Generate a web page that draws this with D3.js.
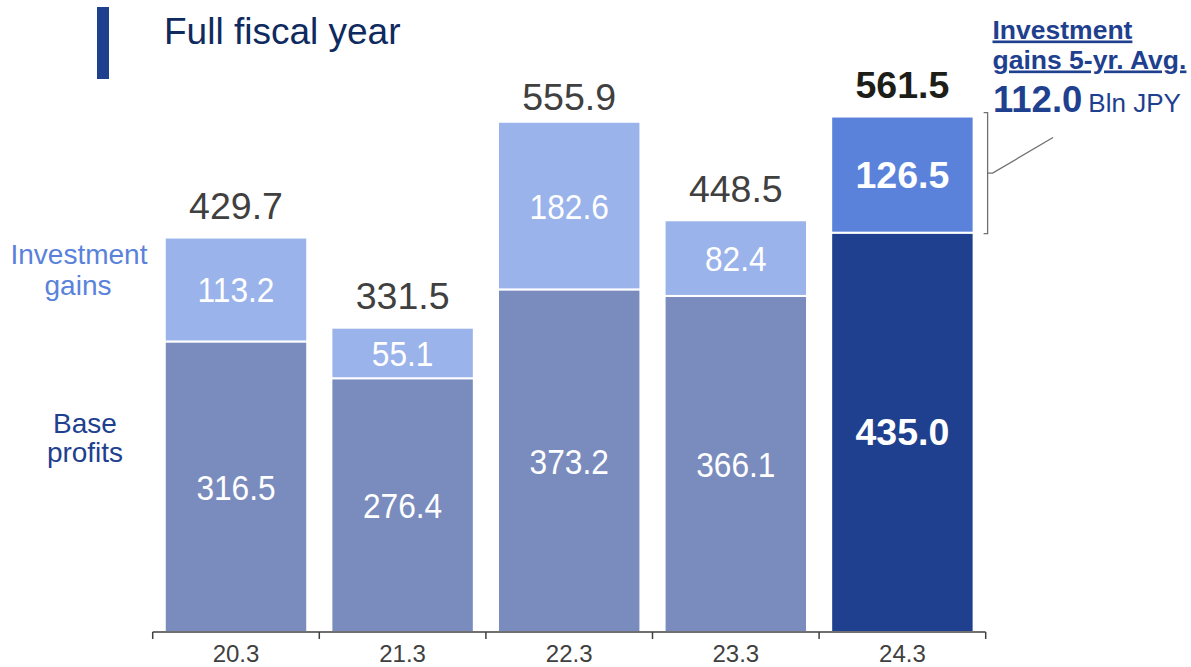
<!DOCTYPE html>
<html>
<head>
<meta charset="utf-8">
<script src="https://cdn.jsdelivr.net/npm/d3@7"></script>
<style>
  html, body { margin: 0; padding: 0; background: #fff; }
  svg { display: block; font-family: "Liberation Sans", Arial, Helvetica, sans-serif; }
</style>
</head>
<body>
<svg id="chart" width="1191" height="667"></svg>
<script>
// Fiscal years (ending March) and profit components, Bln JPY
const categories = ["20.3", "21.3", "22.3", "23.3", "24.3"];
const baseProfits = [316.5, 276.4, 373.2, 366.1, 435.0];
const investmentGains = [113.2, 55.1, 182.6, 82.4, 126.5];
const totals = [429.7, 331.5, 555.9, 448.5, 561.5];
const investmentAvg5yr = 112.0;
const highlightYear = "24.3";

const svg = d3.select("#chart");

const x = d3.scaleBand()
  .domain(categories)
  .range([152.7, 985.7])
  .paddingInner(0.145)
  .paddingOuter(0.0725);

const y = d3.scaleLinear().domain([0, 600]).range([632, 81.2]);

const colors = {
  base: "#7a8cbd",
  gains: "#9ab3ea",
  baseHi: "#1f3f8f",
  gainsHi: "#5a82db"
};

const rows = categories.map((c, i) => ({
  cat: c,
  base: baseProfits[i],
  gains: investmentGains[i],
  total: totals[i],
  hi: c === highlightYear
}));

const stack = d3.stack().keys(["base", "gains"])(rows);

// Stacked bars
const layers = svg.append("g").selectAll("g")
  .data(stack)
  .join("g");

layers.selectAll("rect")
  .data(L => L.map(d => ({ key: L.key, d0: d[0], d1: d[1], row: d.data })))
  .join("rect")
  .attr("x", d => x(d.row.cat))
  .attr("width", x.bandwidth())
  .attr("y", d => y(d.d1))
  .attr("height", d => y(d.d0) - y(d.d1))
  .attr("fill", d => d.row.hi ? colors[d.key + "Hi"] : colors[d.key])
  .attr("stroke", "#fff")
  .attr("stroke-width", 2);

// Segment value labels (regular ones set slightly condensed)
layers.selectAll("text")
  .data(L => L.map(d => ({ key: L.key, d0: d[0], d1: d[1], row: d.data })))
  .join("text")
  .attr("transform", d => {
    const cx = x(d.row.cat) + x.bandwidth() / 2;
    const cy = (y(d.d0) + y(d.d1)) / 2 + 13;
    return `translate(${cx},${cy}) scale(${d.row.hi ? 1 : 0.88},1)`;
  })
  .attr("text-anchor", "middle")
  .attr("fill", "#fff")
  .attr("font-size", d => d.row.hi ? 37.5 : 36)
  .attr("font-weight", d => d.row.hi ? "bold" : "normal")
  .text(d => d.row[d.key].toFixed(1));

// Totals above bars
svg.append("g").selectAll("text")
  .data(rows)
  .join("text")
  .attr("x", d => x(d.cat) + x.bandwidth() / 2)
  .attr("y", d => y(d.total) - (d.cat === "22.3" ? 12 : 18.5))
  .attr("text-anchor", "middle")
  .attr("font-size", 37.5)
  .attr("font-weight", d => d.hi ? "bold" : "normal")
  .attr("fill", d => d.hi ? "#1e1e19" : "#404040")
  .text(d => d.total.toFixed(1));

// Category axis with ticks on band boundaries
const axisG = svg.append("g");
const gap = (x.step() - x.bandwidth()) / 2;
const bounds = categories.map(c => x(c) - gap).concat([x(categories[categories.length - 1]) + x.bandwidth() + gap]);
axisG.append("line")
  .attr("x1", bounds[0]).attr("x2", bounds[bounds.length - 1])
  .attr("y1", y(0)).attr("y2", y(0))
  .attr("stroke", "#404040").attr("stroke-width", 1.5);
axisG.selectAll("line.tick")
  .data(bounds)
  .join("line")
  .attr("class", "tick")
  .attr("x1", d => d).attr("x2", d => d)
  .attr("y1", y(0)).attr("y2", y(0) + 7)
  .attr("stroke", "#404040").attr("stroke-width", 1.5);
axisG.selectAll("text")
  .data(categories)
  .join("text")
  .attr("x", d => x(d) + x.bandwidth() / 2)
  .attr("y", 662)
  .attr("text-anchor", "middle")
  .attr("font-size", 24)
  .attr("fill", "#404040")
  .text(d => d);

// Title with accent bar
svg.append("rect").attr("x", 97).attr("y", 7).attr("width", 12).attr("height", 72).attr("fill", "#1f3f8f");
svg.append("text").attr("x", 164).attr("y", 43.5)
  .attr("font-size", 37).attr("fill", "#0e2a5e")
  .text("Full fiscal year");

// Series labels on the left
const legendInv = svg.append("text").attr("text-anchor", "middle").attr("fill", "#5a82db").attr("font-size", 28);
legendInv.append("tspan").attr("x", 79).attr("y", 263.5).text("Investment");
legendInv.append("tspan").attr("x", 78).attr("y", 294.5).text("gains");
const legendBase = svg.append("text").attr("text-anchor", "middle").attr("fill", "#1f3f8f").attr("font-size", 28);
legendBase.append("tspan").attr("x", 85).attr("y", 432.5).text("Base");
legendBase.append("tspan").attr("x", 85).attr("y", 462).text("profits");

// Bracket around the latest investment gains, with leader to the note
const last = rows[rows.length - 1];
const bx = x(last.cat) + x.bandwidth() + 14;
const bTop = y(last.total) - 4;
const bBot = y(last.base) + 1;
const bMid = (bTop + bBot) / 2;
svg.append("path")
  .attr("d", `M${bx - 4},${bTop} H${bx} V${bBot} H${bx - 4} M${bx},${bMid} H${bx + 5} L1053,137.5`)
  .attr("fill", "none")
  .attr("stroke", "#707070")
  .attr("stroke-width", 1.3);

// Five-year average note
const note = svg.append("g").attr("fill", "#1f3f8f");
note.append("text").attr("x", 992.5).attr("y", 38.5)
  .attr("font-size", 26.5).attr("font-weight", "bold").attr("text-decoration", "underline")
  .text("Investment");
note.append("text").attr("x", 992.5).attr("y", 68.5)
  .attr("font-size", 26.5).attr("font-weight", "bold").attr("text-decoration", "underline")
  .text("gains 5-yr. Avg.");
const avg = note.append("text").attr("x", 993).attr("y", 112.3);
avg.append("tspan").attr("font-size", 36.5).attr("font-weight", "bold").text(investmentAvg5yr.toFixed(1));
avg.append("tspan").attr("font-size", 26).attr("dx", 6).text("Bln JPY");
</script>
</body>
</html>
